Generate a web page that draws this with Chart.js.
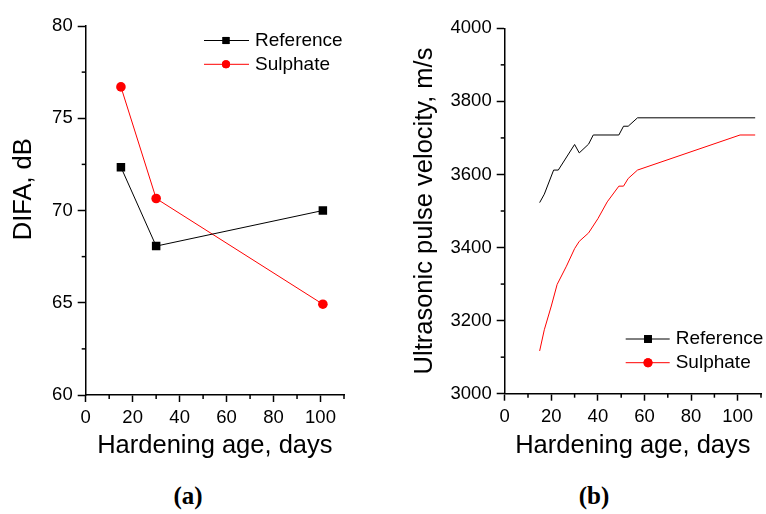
<!DOCTYPE html>
<html>
<head>
<meta charset="utf-8">
<script src="https://cdn.jsdelivr.net/npm/chart.js@4.4.1/dist/chart.umd.min.js"></script>
<style>
  html, body { margin: 0; padding: 0; background: #fff; }
  #wrap { position: relative; width: 766px; height: 514px; overflow: hidden; }
  canvas { position: absolute; top: 0; }
  #chartA { left: 0; }
  #chartB { left: 383px; }
  .caption {
    position: absolute;
    top: 482px;
    width: 60px;
    text-align: center;
    font: bold 25px "Liberation Serif", "DejaVu Serif", serif;
    color: #000;
  }
</style>
</head>
<body>
<div id="wrap">
  <canvas id="chartA" width="383" height="470"></canvas>
  <canvas id="chartB" width="383" height="470"></canvas>
  <div class="caption" style="left:158px">(a)</div>
  <div class="caption" style="left:564px">(b)</div>
</div>
<script>
// (a) DIFA vs hardening age
const difaDays = [15, 30, 101];
const difaReference = [72.35, 68.07, 70.0];
const difaSulphate = [76.7, 70.65, 64.92];

// (b) ultrasonic pulse velocity vs hardening age
const upvRefDays = [15, 17, 21, 23, 30, 32, 36, 38, 49, 51, 53, 57, 107.5];
const upvReference = [3523, 3546, 3612, 3612, 3682, 3659, 3683, 3708, 3708, 3732, 3732, 3755, 3755];
const upvSulDays = [15, 17, 20, 22.5, 26.5, 30, 32, 36, 40, 44, 49, 51, 53, 57, 101, 107.5];
const upvSulphate = [3117, 3175, 3240, 3299, 3349, 3397, 3417, 3440, 3479, 3525, 3568, 3568, 3589, 3612, 3708, 3708];

const seriesNames = ["Reference", "Sulphate"];
const xTitle = "Hardening age, days";

Chart.defaults.font.family = "'Liberation Sans', Arial, sans-serif";
Chart.defaults.color = "#000";

const toPoints = (xs, ys) => xs.map((x, i) => ({ x, y: ys[i] }));
const isMajor = (v, step) => Math.abs(v / step - Math.round(v / step)) < 1e-6;

// short minor ticks, drawn at the library's own tick positions
const minorTicks = {
  id: "minorTicks",
  afterDraw(chart, args, opts) {
    const ctx = chart.ctx;
    ctx.save();
    ctx.strokeStyle = "#000";
    ctx.lineWidth = 1.5;
    for (const id of ["x", "y"]) {
      const scale = chart.scales[id];
      const major = opts[id];
      scale.ticks.forEach((t) => {
        if (isMajor(t.value, major)) return;
        const p = scale.getPixelForValue(t.value);
        ctx.beginPath();
        if (id === "x") {
          ctx.moveTo(p, scale.top);
          ctx.lineTo(p, scale.top + opts.len);
        } else {
          ctx.moveTo(scale.right, p);
          ctx.lineTo(scale.right - opts.len, p);
        }
        ctx.stroke();
      });
    }
    ctx.restore();
  },
};

// line + marker legend, like the original plot
const lineLegend = {
  id: "lineLegend",
  afterDraw(chart, args, opts) {
    const ctx = chart.ctx;
    ctx.save();
    ctx.font = opts.size + "px 'Liberation Sans', Arial, sans-serif";
    ctx.textBaseline = "middle";
    chart.data.datasets.forEach((ds, i) => {
      const y = opts.rows[i];
      ctx.strokeStyle = ds.borderColor;
      ctx.lineWidth = 1;
      ctx.beginPath();
      ctx.moveTo(opts.x0, y);
      ctx.lineTo(opts.x1, y);
      ctx.stroke();
      ctx.fillStyle = ds.borderColor;
      ctx.beginPath();
      Chart.helpers.drawPoint(ctx, { pointStyle: ds.pointStyle, radius: opts.radius[i], borderWidth: 0 }, opts.mx, y);
      ctx.fill();
      ctx.fillStyle = "#000";
      ctx.fillText(ds.label, opts.tx, y);
    });
    ctx.restore();
  },
};

function makeChart(el, cfg) {
  const H = 470;
  return new Chart(document.getElementById(el), {
    type: "scatter",
    data: { datasets: cfg.datasets },
    options: {
      responsive: false,
      animation: false,
      devicePixelRatio: 1,
      layout: { padding: { left: 0, top: cfg.area.top, right: 383 - cfg.area.right, bottom: 0 } },
      plugins: {
        legend: { display: false },
        tooltip: { enabled: false },
        minorTicks: { x: 20, y: cfg.yMajor, len: 4 },
        lineLegend: cfg.legend,
      },
      scales: {
        x: {
          type: "linear",
          min: 0,
          max: 110,
          afterFit: (s) => { s.height = H - cfg.area.bottom; },
          border: { color: "#000", width: 1.5 },
          grid: {
            drawOnChartArea: false,
            tickLength: 7,
            tickWidth: 1.5,
            tickColor: (c) => (isMajor(c.tick.value, 20) ? "#000" : "transparent"),
          },
          ticks: {
            stepSize: 10,
            autoSkip: false,
            maxRotation: 0,
            padding: 5,
            font: { size: 18.5 },
            callback: (v) => (isMajor(v, 20) ? v : ""),
          },
          title: {
            display: true,
            text: xTitle,
            font: { size: 25.5 },
            padding: { top: 0, bottom: 9 },
          },
        },
        y: {
          type: "linear",
          min: cfg.yMin,
          max: cfg.yMax,
          afterFit: (s) => { s.width = cfg.area.left; },
          border: { color: "#000", width: 1.5 },
          grid: {
            drawOnChartArea: false,
            tickLength: 8,
            tickWidth: 1.5,
            tickColor: (c) => (isMajor(c.tick.value, cfg.yMajor) ? "#000" : "transparent"),
          },
          ticks: {
            stepSize: cfg.yMinor,
            autoSkip: false,
            padding: 5,
            font: { size: 18.5 },
            callback: (v) => (isMajor(v, cfg.yMajor) ? v : ""),
          },
          title: {
            display: true,
            text: cfg.yTitle,
            font: { size: 25.5 },
            padding: { top: cfg.yTitlePad, bottom: 0 },
          },
        },
      },
    },
    plugins: [minorTicks, lineLegend],
  });
}

makeChart("chartA", {
  area: { left: 85.7, right: 344, top: 26, bottom: 395 },
  yMin: 60, yMax: 80, yMajor: 5, yMinor: 2.5,
  // leading spaces lift the title a little above the axis centre, as in the original
  yTitle: "      DIFA, dB",
  yTitlePad: 9,
  legend: { x0: 204, x1: 249, mx: 226, tx: 255, rows: [40.5, 64.3], size: 19, radius: [5, 4] },
  datasets: [
    {
      label: seriesNames[0],
      data: toPoints(difaDays, difaReference),
      showLine: true,
      borderColor: "#000",
      backgroundColor: "#000",
      borderWidth: 1,
      pointStyle: "rect",
      pointRadius: 6,
      pointBorderWidth: 0,
    },
    {
      label: seriesNames[1],
      data: toPoints(difaDays, difaSulphate),
      showLine: true,
      borderColor: "#ff0000",
      backgroundColor: "#ff0000",
      borderWidth: 1,
      pointStyle: "circle",
      pointRadius: 4.8,
      pointBorderWidth: 0,
    },
  ],
});

makeChart("chartB", {
  area: { left: 121.7, right: 379, top: 28.3, bottom: 393.7 },
  yMin: 3000, yMax: 4000, yMajor: 200, yMinor: 100,
  yTitle: "Ultrasonic pulse velocity, m/s",
  yTitlePad: 27,
  legend: { x0: 242.7, x1: 286.7, mx: 265, tx: 292.7, rows: [339, 362.7], size: 19, radius: [5.5, 4.5] },
  datasets: [
    {
      label: seriesNames[0],
      data: toPoints(upvRefDays, upvReference),
      showLine: true,
      borderColor: "#000",
      backgroundColor: "#000",
      borderWidth: 1,
      pointStyle: "rect",
      pointRadius: 0,
    },
    {
      label: seriesNames[1],
      data: toPoints(upvSulDays, upvSulphate),
      showLine: true,
      borderColor: "#ff0000",
      backgroundColor: "#ff0000",
      borderWidth: 1,
      pointStyle: "circle",
      pointRadius: 0,
    },
  ],
});
</script>
</body>
</html>
